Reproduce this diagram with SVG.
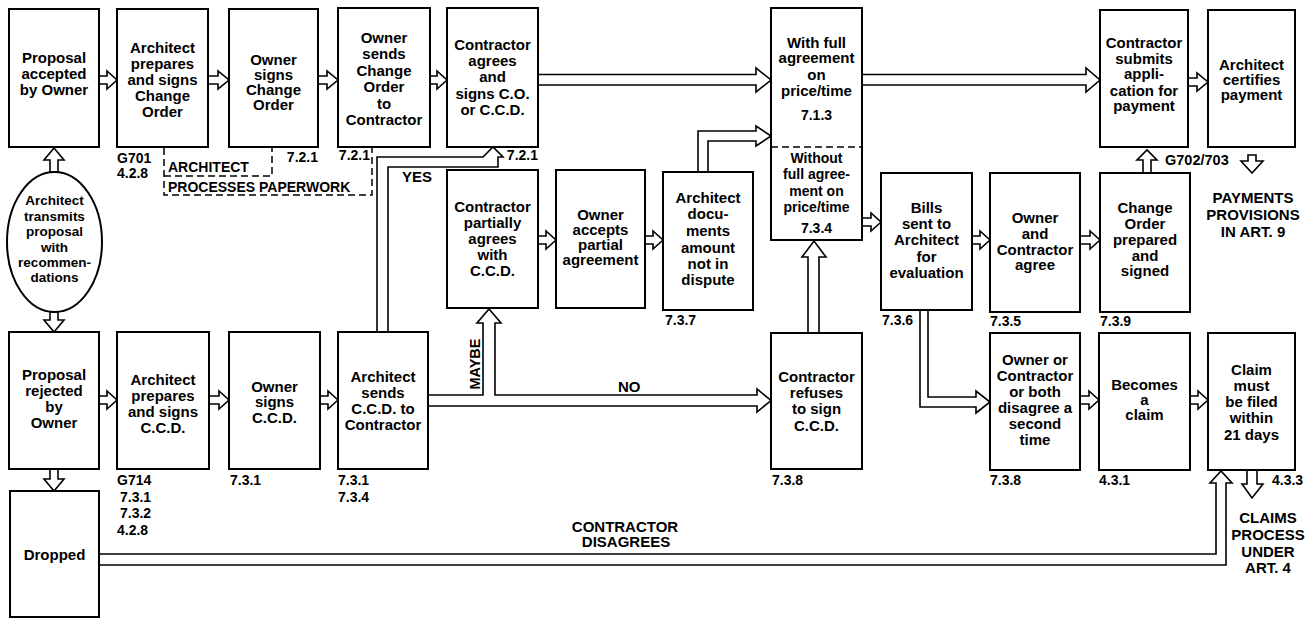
<svg xmlns="http://www.w3.org/2000/svg" width="1307" height="627" viewBox="0 0 1307 627">
<style>
.box{fill:#fff;stroke:#000;stroke-width:2}
.arr{fill:#fff;stroke:#000;stroke-width:1.6;stroke-linejoin:miter}
.dash{fill:none;stroke:#000;stroke-width:1.5;stroke-dasharray:7 4}
text{font-family:"Liberation Sans",Arial,sans-serif;font-weight:bold;fill:#000}
.t{font-size:15px;text-anchor:middle}
.s{font-size:14px;text-anchor:middle}
.e{font-size:13.5px;text-anchor:middle}
.l{font-size:14px}
.le{font-size:14px;text-anchor:end}
.c{font-size:15px;text-anchor:middle}
</style>
<rect width="1307" height="627" fill="#fff"/>
<g id="connectors">
<path class="arr" d="M99,76 H107 V71 L117,80 L107,89 V84 H99 Z"/>
<path class="arr" d="M208,76 H218 V71 L229,80 L218,89 V84 H208 Z"/>
<path class="arr" d="M318,76 H327 V71 L338,80 L327,89 V84 H318 Z"/>
<path class="arr" d="M430,76 H437 V71 L447,80 L437,89 V84 H430 Z"/>
<path class="arr" d="M538,74.5 H756 V68 L771,80 L756,92 V85 H538 Z"/>
<path class="arr" d="M862,74.5 H1086 V68 L1100,80 L1086,92 V85 H862 Z"/>
<path class="arr" d="M1188,78 H1197 V73 L1208,82 L1197,91 V86 H1188 Z"/>
<path class="arr" d="M50,172 V160 H44 L54,148 L64,160 H58 V172 Z"/>
<path class="arr" d="M50,312 V320 H44 L54,332 L64,320 H58 V312 Z"/>
<path class="arr" d="M50,469 V479 H44 L54,491 L64,479 H58 V469 Z"/>
<path class="arr" d="M1143,173 V160 H1137 L1147,150 L1157,160 H1151 V173 Z"/>
<path class="arr" d="M1248,155 V161 H1241 L1252,173 L1263,161 H1256 V155 Z"/>
<path class="arr" d="M808,333 V257 H802 L814,241 L826,257 H819 V333 Z"/>
<path class="arr" d="M1247,470 V484 H1242 L1252,498 L1263,484 H1257 V470 Z"/>
<path class="arr" d="M538,236 H546 V231 L556,240 L546,249 V244 H538 Z"/>
<path class="arr" d="M645,236 H653 V231 L663,240 L653,249 V244 H645 Z"/>
<path class="arr" d="M862,218 H871 V213 L881,222 L871,231 V226 H862 Z"/>
<path class="arr" d="M972,236 H980 V231 L990,240 L980,249 V244 H972 Z"/>
<path class="arr" d="M1080,236 H1090 V231 L1100,240 L1090,249 V244 H1080 Z"/>
<path class="arr" d="M99,396 H107 V391 L117,400 L107,409 V404 H99 Z"/>
<path class="arr" d="M209,396 H219 V391 L229,400 L219,409 V404 H209 Z"/>
<path class="arr" d="M320,396 H328 V391 L338,400 L328,409 V404 H320 Z"/>
<path class="arr" d="M1080,396 H1089 V391 L1099,400 L1089,409 V404 H1080 Z"/>
<path class="arr" d="M1190,396 H1198 V391 L1208,400 L1198,409 V404 H1190 Z"/>
<path class="arr" d="M377,332 V157 H483 L493,147 L503,157 H498 V167 H388 V332 Z"/>
<path class="arr" d="M428,395 H483 V323 H477 L489,309 L501,323 H495 V395 H757 V389 L771,400.5 L757,412 V406 H428 Z"/>
<path class="arr" d="M698,172 V131 H756 V126 L771,136 L756,146 V141 H708 V172 Z"/>
<path class="arr" d="M920,310 V407 H976 V413 L990,402 L976,391 V397 H928 V310 Z"/>
<path class="arr" d="M99,554 H1216 V483 H1210 L1221,471 L1232,483 H1226 V565 H99 Z"/>
<path class="dash" d="M164,148 V195 H372 V148 M164,176 H272 V148"/>
</g>
<g id="n-accepted"><rect class="box" x="9" y="9" width="90" height="138"/>
<text class="t" x="54" y="63">Proposal</text><text class="t" x="54" y="79">accepted</text><text class="t" x="54" y="95">by Owner</text></g>
<g id="n-arch-co"><rect class="box" x="117" y="9" width="91" height="138"/>
<text class="t" x="162.5" y="53">Architect</text><text class="t" x="162.5" y="69">prepares</text><text class="t" x="162.5" y="85">and signs</text><text class="t" x="162.5" y="101">Change</text><text class="t" x="162.5" y="117">Order</text></g>
<g id="n-owner-co"><rect class="box" x="229" y="9" width="89" height="138"/>
<text class="t" x="273.5" y="65">Owner</text><text class="t" x="273.5" y="80">signs</text><text class="t" x="273.5" y="95">Change</text><text class="t" x="273.5" y="110">Order</text></g>
<g id="n-owner-sends"><rect class="box" x="338" y="8" width="92" height="139"/>
<text class="t" x="384" y="43">Owner</text><text class="t" x="384" y="59">sends</text><text class="t" x="384" y="76">Change</text><text class="t" x="384" y="92">Order</text><text class="t" x="384" y="109">to</text><text class="t" x="384" y="125">Contractor</text></g>
<g id="n-contractor-agrees"><rect class="box" x="447" y="8" width="91" height="139"/>
<text class="t" x="492.5" y="50">Contractor</text><text class="t" x="492.5" y="66">agrees</text><text class="t" x="492.5" y="82">and</text><text class="t" x="492.5" y="99">signs C.O.</text><text class="t" x="492.5" y="115">or C.C.D.</text></g>
<g id="n-agreement"><rect class="box" x="771" y="8" width="91" height="232"/>
<line class="dash" x1="771" y1="147" x2="862" y2="147"/>
<text class="t" x="816.5" y="48">With full</text><text class="t" x="816.5" y="63">agreement</text><text class="t" x="816.5" y="80">on</text><text class="t" x="816.5" y="96">price/time</text><text class="s" x="816.5" y="120">7.1.3</text>
<text class="s" x="816.5" y="163">Without</text><text class="s" x="816.5" y="179">full agree-</text><text class="s" x="816.5" y="196">ment on</text><text class="s" x="816.5" y="212">price/time</text><text class="s" x="816.5" y="233">7.3.4</text></g>
<g id="n-application"><rect class="box" x="1100" y="10" width="88" height="137"/>
<text class="t" x="1144" y="48">Contractor</text><text class="t" x="1144" y="64">submits</text><text class="t" x="1144" y="79">appli-</text><text class="t" x="1144" y="96">cation for</text><text class="t" x="1144" y="111">payment</text></g>
<g id="n-certifies"><rect class="box" x="1208" y="10" width="87" height="137"/>
<text class="t" x="1251.5" y="70">Architect</text><text class="t" x="1251.5" y="85">certifies</text><text class="t" x="1251.5" y="100">payment</text></g>
<g id="n-transmits"><ellipse class="box" cx="54.5" cy="242" rx="47.5" ry="70"/>
<text class="e" x="54.5" y="205">Architect</text><text class="e" x="54.5" y="221">transmits</text><text class="e" x="54.5" y="236">proposal</text><text class="e" x="54.5" y="252">with</text><text class="e" x="54.5" y="267">recommen-</text><text class="e" x="54.5" y="282">dations</text></g>
<g id="n-partial"><rect class="box" x="447" y="170" width="91" height="138"/>
<text class="t" x="492.5" y="212">Contractor</text><text class="t" x="492.5" y="228">partially</text><text class="t" x="492.5" y="244">agrees</text><text class="t" x="492.5" y="260">with</text><text class="t" x="492.5" y="276">C.C.D.</text></g>
<g id="n-owner-accepts"><rect class="box" x="556" y="170" width="89" height="138"/>
<text class="t" x="600.5" y="220">Owner</text><text class="t" x="600.5" y="235">accepts</text><text class="t" x="600.5" y="250">partial</text><text class="t" x="600.5" y="265">agreement</text></g>
<g id="n-documents"><rect class="box" x="663" y="172" width="90" height="138"/>
<text class="t" x="708" y="203">Architect</text><text class="t" x="708" y="219">docu-</text><text class="t" x="708" y="236">ments</text><text class="t" x="708" y="253">amount</text><text class="t" x="708" y="269">not in</text><text class="t" x="708" y="285">dispute</text></g>
<g id="n-bills"><rect class="box" x="881" y="173" width="91" height="137"/>
<text class="t" x="926.5" y="213">Bills</text><text class="t" x="926.5" y="229">sent to</text><text class="t" x="926.5" y="245">Architect</text><text class="t" x="926.5" y="262">for</text><text class="t" x="926.5" y="278">evaluation</text></g>
<g id="n-agree"><rect class="box" x="990" y="173" width="90" height="139"/>
<text class="t" x="1035" y="223">Owner</text><text class="t" x="1035" y="239">and</text><text class="t" x="1035" y="255">Contractor</text><text class="t" x="1035" y="270">agree</text></g>
<g id="n-co-prepared"><rect class="box" x="1100" y="173" width="90" height="139"/>
<text class="t" x="1145" y="213">Change</text><text class="t" x="1145" y="229">Order</text><text class="t" x="1145" y="245">prepared</text><text class="t" x="1145" y="261">and</text><text class="t" x="1145" y="276">signed</text></g>
<g id="n-rejected"><rect class="box" x="9" y="332" width="90" height="137"/>
<text class="t" x="54" y="380">Proposal</text><text class="t" x="54" y="396">rejected</text><text class="t" x="54" y="412">by</text><text class="t" x="54" y="428">Owner</text></g>
<g id="n-arch-ccd"><rect class="box" x="117" y="332" width="92" height="137"/>
<text class="t" x="163" y="385">Architect</text><text class="t" x="163" y="401">prepares</text><text class="t" x="163" y="417">and signs</text><text class="t" x="163" y="433">C.C.D.</text></g>
<g id="n-owner-ccd"><rect class="box" x="229" y="332" width="91" height="137"/>
<text class="t" x="274.5" y="392">Owner</text><text class="t" x="274.5" y="407">signs</text><text class="t" x="274.5" y="423">C.C.D.</text></g>
<g id="n-arch-sends"><rect class="box" x="338" y="332" width="90" height="137"/>
<text class="t" x="383" y="382">Architect</text><text class="t" x="383" y="398">sends</text><text class="t" x="383" y="414">C.C.D. to</text><text class="t" x="383" y="430">Contractor</text></g>
<g id="n-refuses"><rect class="box" x="771" y="333" width="91" height="136"/>
<text class="t" x="816.5" y="382">Contractor</text><text class="t" x="816.5" y="398">refuses</text><text class="t" x="816.5" y="414">to sign</text><text class="t" x="816.5" y="431">C.C.D.</text></g>
<g id="n-disagree"><rect class="box" x="990" y="333" width="90" height="137"/>
<text class="t" x="1035" y="365">Owner or</text><text class="t" x="1035" y="381">Contractor</text><text class="t" x="1035" y="397">or both</text><text class="t" x="1035" y="413">disagree a</text><text class="t" x="1035" y="429">second</text><text class="t" x="1035" y="445">time</text></g>
<g id="n-claim"><rect class="box" x="1099" y="333" width="91" height="137"/>
<text class="t" x="1144.5" y="390">Becomes</text><text class="t" x="1144.5" y="405">a</text><text class="t" x="1144.5" y="420">claim</text></g>
<g id="n-filed"><rect class="box" x="1208" y="333" width="87" height="137"/>
<text class="t" x="1251.5" y="375">Claim</text><text class="t" x="1251.5" y="391">must</text><text class="t" x="1251.5" y="407">be filed</text><text class="t" x="1251.5" y="423">within</text><text class="t" x="1251.5" y="440">21 days</text></g>
<g id="n-dropped"><rect class="box" x="10" y="491" width="89" height="126"/>
<text class="t" x="54.5" y="560">Dropped</text></g>
<g id="labels">
<text class="l" x="117" y="163">G701</text><text class="l" x="117" y="178">4.2.8</text>
<text class="le" x="318" y="162">7.2.1</text>
<text class="l" x="168" y="172">ARCHITECT</text><text class="l" x="168" y="192">PROCESSES PAPERWORK</text>
<text class="le" x="370" y="160">7.2.1</text>
<text class="le" x="538" y="160">7.2.1</text>
<text class="l" x="402" y="182" style="font-size:15px">YES</text>
<text class="l" x="665" y="325">7.3.7</text><text class="l" x="882" y="325">7.3.6</text>
<text class="l" x="990" y="326">7.3.5</text><text class="l" x="1100" y="326">7.3.9</text>
<text class="l" x="1165" y="165" style="font-size:14.5px">G702/703</text>
<text class="c" x="1253" y="203">PAYMENTS</text><text class="c" x="1253" y="220">PROVISIONS</text><text class="c" x="1253" y="237">IN ART. 9</text>
<text class="c" transform="translate(480,364) rotate(-90)" style="font-size:14.5px">MAYBE</text>
<text class="l" x="618" y="392" style="font-size:15px">NO</text>
<text class="l" x="117" y="485">G714</text><text class="l" x="120" y="502">7.3.1</text><text class="l" x="120" y="518">7.3.2</text><text class="l" x="117" y="535">4.2.8</text>
<text class="l" x="230" y="485">7.3.1</text>
<text class="l" x="338" y="485">7.3.1</text><text class="l" x="338" y="502">7.3.4</text>
<text class="l" x="772" y="485">7.3.8</text><text class="l" x="990" y="485">7.3.8</text>
<text class="l" x="1099" y="485">4.3.1</text><text class="l" x="1272" y="485">4.3.3</text>
<text class="c" x="625" y="532">CONTRACTOR</text><text class="c" x="626" y="547">DISAGREES</text>
<text class="c" x="1268" y="523">CLAIMS</text><text class="c" x="1268" y="540">PROCESS</text><text class="c" x="1268" y="557">UNDER</text><text class="c" x="1268" y="573">ART. 4</text>
</g>
</svg>
